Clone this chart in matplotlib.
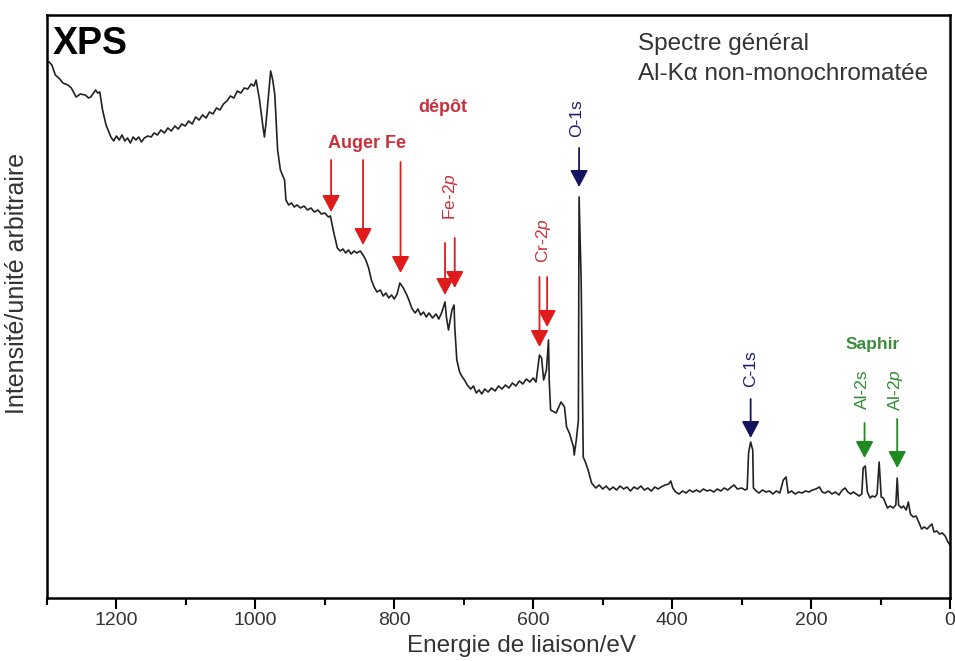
import numpy as np
import matplotlib.pyplot as plt
from matplotlib.ticker import MultipleLocator

plt.rcParams['font.family'] = ['Liberation Sans', 'DejaVu Sans']
plt.rcParams['mathtext.fontset'] = 'custom'
plt.rcParams['mathtext.it'] = 'Liberation Sans:italic'
plt.rcParams['mathtext.rm'] = 'Liberation Sans'

# spectrum (binding energy in eV, arbitrary intensity)
energy = [1297, 1293, 1288, 1283, 1277, 1270, 1265, 1258, 1252, 1245, 1240, 1237,
          1230, 1227, 1224, 1220, 1215, 1208,
          1204, 1200, 1196, 1192, 1188, 1184, 1180, 1176, 1172, 1168, 1164, 1160,
          1155, 1150, 1146, 1141, 1136, 1131, 1126, 1121, 1116, 1111, 1106, 1101,
          1096, 1091, 1086, 1081, 1076, 1071, 1066, 1061, 1056, 1051, 1046, 1041,
          1036, 1031, 1026, 1021, 1016, 1011, 1006, 1002, 999,
          994, 990, 987, 985, 983, 978, 975, 972, 968, 964, 958,
          956, 952, 948, 944, 940, 935, 930, 925, 920, 915, 910, 905, 900, 895, 892,
          888, 882, 878, 874, 870, 866, 862, 858, 854, 849, 845, 841, 837,
          833, 829, 825, 820, 816, 812, 808, 804, 800, 796, 792, 787, 782, 779,
          775, 770, 766, 762, 758, 754, 750, 745, 740, 736, 732,
          727, 725, 722, 717, 714, 713, 710, 706, 703,
          699, 695, 690, 686, 682, 678, 674, 670, 665, 660, 655, 650, 645, 640,
          635, 630, 625, 620, 615, 610, 605, 600, 596,
          591, 588, 585, 581, 578, 577, 575, 567, 560, 555, 552, 548, 542, 541,
          538, 535, 534, 531, 528, 525, 521,
          516, 510, 505, 500, 495, 490, 485, 480, 475, 470, 465, 460, 455, 450,
          445, 440, 435, 430, 425, 420, 416, 410, 405, 402, 399, 395, 390, 385,
          380, 375, 370, 365, 360, 355, 350, 345, 340, 335, 330, 325, 320, 315,
          311, 306, 300, 295, 292, 290, 287, 284, 283, 279, 275, 270, 265, 260,
          255, 250, 245, 240, 236, 233, 228, 223, 218, 213, 208, 203, 198, 193,
          188, 184, 180, 175, 170, 165, 160, 155, 151, 147, 143, 139, 135, 131,
          127, 125, 122, 119, 115, 112, 108, 105, 102, 99, 96, 93, 90, 86, 82,
          78, 76, 74, 70, 67, 63, 60, 57, 53, 49, 45, 41, 37, 33, 29, 26, 23,
          19, 15, 11, 7, 3, 0]
intensity = [536, 533, 523, 520, 515, 513, 510, 501, 504, 503, 500, 501,
             508, 505, 506, 488, 473, 461,
             457, 462, 458, 463, 457, 460, 455, 461, 458, 461, 456, 460,
             462, 461, 465, 463, 468, 465, 470, 467, 472, 469, 474, 472,
             477, 474, 481, 478, 483, 480, 486, 484, 490, 488, 494, 497,
             502, 500, 507, 505, 510, 509, 514, 512, 518,
             498, 476, 461, 473, 488, 527, 518, 503, 448, 428, 418,
             398, 393, 395, 391, 393, 390, 392, 388, 390, 386, 388, 384, 385, 381, 382,
             368, 350, 347, 349, 345, 348, 344, 347, 345, 347, 343, 338, 330,
             318, 311, 306, 308, 302, 305, 300, 303, 299, 304, 315, 310, 303, 298,
             290, 285, 289, 283, 286, 281, 285, 280, 284, 279, 285,
             296, 281, 268, 288, 293, 271, 238, 226, 222,
             218, 213, 209, 212, 205, 208, 204, 209, 206, 210, 207, 212, 209, 213,
             210, 215, 212, 217, 214, 219, 216, 220, 216,
             243, 240, 218, 228, 258, 218, 188, 185, 196, 191, 171, 165, 151, 143,
             158, 178, 401, 318, 141, 136, 128,
             115, 110, 113, 109, 112, 108, 111, 108, 112, 109, 111, 107, 111, 109,
             112, 108, 110, 107, 111, 109, 111, 113, 114, 117, 110, 106, 104, 107,
             105, 108, 106, 108, 106, 109, 107, 108, 106, 109, 107, 110, 108, 111,
             113, 109, 110, 108, 109, 145, 156, 148, 110, 107, 105, 108, 106, 107,
             104, 107, 105, 118, 121, 105, 107, 104, 106, 105, 107, 106, 108, 109,
             111, 106, 105, 107, 104, 106, 103, 108, 110, 106, 104, 106, 104, 102,
             104, 130, 132, 106, 100, 102, 101, 104, 136, 101, 100, 95, 90, 92, 90,
             93, 120, 93, 90, 92, 88, 96, 84, 81, 82, 76, 69, 71, 69, 72, 74, 66,
             67, 64, 65, 62, 56, 53]

# peak labels: text, text position (eV, intensity), rotation, colour
label_text = ['dépôt', 'Auger Fe', r'Fe-2$\mathit{p}$', r'Cr-2$\mathit{p}$', 'O-1s',
              'C-1s', 'Saphir', 'Al-2s', r'Al-2$\mathit{p}$']
label_e = [730, 839, 719, 585, 537, 287, 112, 126, 79]
label_i = [490, 455, 401, 357, 480, 229, 253, 209, 208]
label_rot = [0, 0, 90, 90, 90, 90, 0, 90, 90]
label_col = ['#c8323c', '#c8323c', '#c8323c', '#c8323c', '#1c1c6b',
             '#1c1c6b', '#3c8c3c', '#2f8a2f', '#2f8a2f']

# arrows: energy, start intensity, tip intensity, colour
arrow_e = [891, 845, 791, 727, 713, 591, 580, 534, 287, 123, 76]
arrow_top = [438, 438, 436, 355, 360, 321, 321, 450, 199, 175, 179]
arrow_tip = [386, 353, 325, 303, 310, 251, 271, 411, 160, 140, 130]
arrow_col = ['#e01b1b'] * 7 + ['#14145e', '#14145e', '#1f8a1f', '#1f8a1f']

fig = plt.figure(figsize=(9.55, 6.61), dpi=100)
ax = fig.add_axes([47 / 955, 1 - 598 / 661, 903 / 955, 583 / 661])

ax.plot(energy, intensity, color='#222222', lw=1.2)

for e, top, tip, c in zip(arrow_e, arrow_top, arrow_tip, arrow_col):
    ax.annotate('', xy=(e, tip), xytext=(e, top),
                arrowprops=dict(arrowstyle='-|>,head_length=0.85,head_width=0.45',
                                mutation_scale=12, color=c, lw=1.3,
                                shrinkA=0, shrinkB=0))

for t, e, i, r, c in zip(label_text, label_e, label_i, label_rot, label_col):
    bold = r == 0 and t != 'Saphir'
    ax.text(e, i, t, rotation=r, color=c, ha='center', va='center',
            fontsize=13 if bold else 12.5,
            fontweight='bold' if bold or t == 'Saphir' else 'normal')

ax.text(0.006, 0.95, 'XPS', transform=ax.transAxes, fontsize=27,
        fontweight='bold', ha='left', va='center')
ax.text(0.655, 0.95, 'Spectre général', transform=ax.transAxes, fontsize=17.5,
        color='#333333', ha='left', va='center')
ax.text(0.655, 0.898, 'Al-Kα non-monochromatée', transform=ax.transAxes,
        fontsize=17.5, color='#333333', ha='left', va='center')

ax.set_xlim(1300, 0)
ax.set_ylim(0, 583)
ax.xaxis.set_major_locator(MultipleLocator(200))
ax.xaxis.set_minor_locator(MultipleLocator(100))
ax.tick_params(axis='x', which='major', length=8, width=1.5, direction='out',
               labelsize=14, pad=2, labelcolor='#333333')
ax.tick_params(axis='x', which='minor', length=5, width=1.5, direction='out')
ax.set_yticks([])
for s in ax.spines.values():
    s.set_linewidth(1.8)

ax.set_xlabel('Energie de liaison/eV', fontsize=17.5, color='#333333')
ax.xaxis.set_label_coords(0.526, -0.064)
ax.set_ylabel('Intensité/unité arbitraire', fontsize=18, color='#333333')
ax.yaxis.set_label_coords(-0.02, 0.539)

fig.savefig('out.png', dpi=100)
